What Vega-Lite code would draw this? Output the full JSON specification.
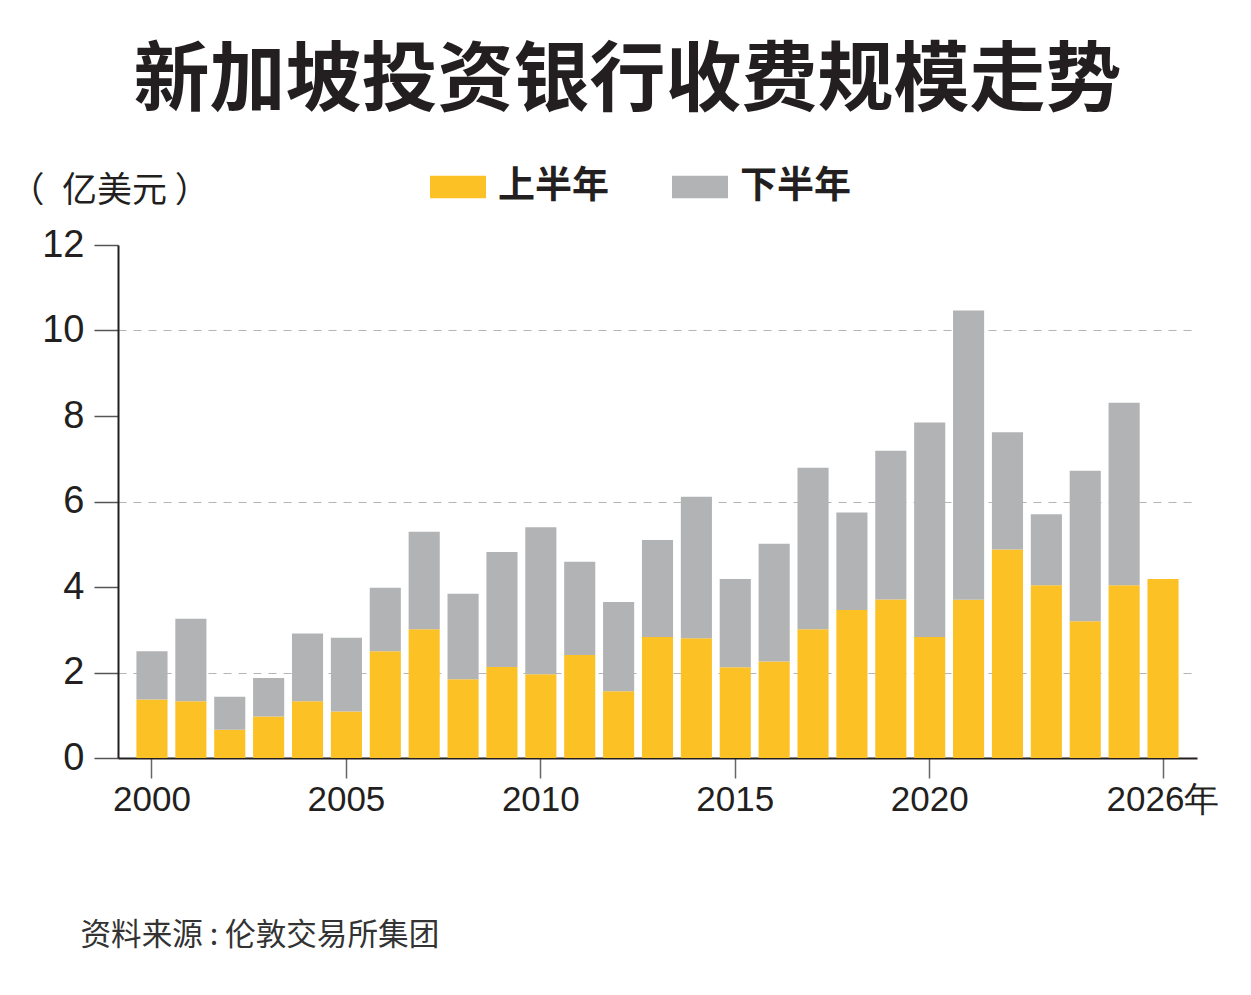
{
  "$schema": "https://vega.github.io/schema/vega-lite/v6.json",
  "autosize": {"type": "none"},
  "padding": {"left": 118, "top": 245, "right": 54, "bottom": 237},
  "width": 1079,
  "height": 513,
  "background": "white",
  "title": {
    "text": "新加坡投资银行收费规模走势",
    "font": "Noto Sans CJK SC",
    "fontSize": 76,
    "fontWeight": "bold",
    "color": "#231f20",
    "anchor": "middle",
    "frame": "group",
    "dx": -30,
    "offset": 38
  },
  "data": {
    "values": [
      {"year": 2000, "half": "上半年", "value": 1.37}, {"year": 2000, "half": "下半年", "value": 1.13},
      {"year": 2001, "half": "上半年", "value": 1.33}, {"year": 2001, "half": "下半年", "value": 1.93},
      {"year": 2002, "half": "上半年", "value": 0.66}, {"year": 2002, "half": "下半年", "value": 0.77},
      {"year": 2003, "half": "上半年", "value": 0.97}, {"year": 2003, "half": "下半年", "value": 0.90},
      {"year": 2004, "half": "上半年", "value": 1.33}, {"year": 2004, "half": "下半年", "value": 1.58},
      {"year": 2005, "half": "上半年", "value": 1.09}, {"year": 2005, "half": "下半年", "value": 1.72},
      {"year": 2006, "half": "上半年", "value": 2.50}, {"year": 2006, "half": "下半年", "value": 1.48},
      {"year": 2007, "half": "上半年", "value": 3.01}, {"year": 2007, "half": "下半年", "value": 2.28},
      {"year": 2008, "half": "上半年", "value": 1.84}, {"year": 2008, "half": "下半年", "value": 2.00},
      {"year": 2009, "half": "上半年", "value": 2.13}, {"year": 2009, "half": "下半年", "value": 2.69},
      {"year": 2010, "half": "上半年", "value": 1.96}, {"year": 2010, "half": "下半年", "value": 3.44},
      {"year": 2011, "half": "上半年", "value": 2.41}, {"year": 2011, "half": "下半年", "value": 2.18},
      {"year": 2012, "half": "上半年", "value": 1.56}, {"year": 2012, "half": "下半年", "value": 2.09},
      {"year": 2013, "half": "上半年", "value": 2.83}, {"year": 2013, "half": "下半年", "value": 2.27},
      {"year": 2014, "half": "上半年", "value": 2.80}, {"year": 2014, "half": "下半年", "value": 3.31},
      {"year": 2015, "half": "上半年", "value": 2.12}, {"year": 2015, "half": "下半年", "value": 2.07},
      {"year": 2016, "half": "上半年", "value": 2.26}, {"year": 2016, "half": "下半年", "value": 2.75},
      {"year": 2017, "half": "上半年", "value": 3.01}, {"year": 2017, "half": "下半年", "value": 3.78},
      {"year": 2018, "half": "上半年", "value": 3.46}, {"year": 2018, "half": "下半年", "value": 2.28},
      {"year": 2019, "half": "上半年", "value": 3.71}, {"year": 2019, "half": "下半年", "value": 3.48},
      {"year": 2020, "half": "上半年", "value": 2.83}, {"year": 2020, "half": "下半年", "value": 5.02},
      {"year": 2021, "half": "上半年", "value": 3.70}, {"year": 2021, "half": "下半年", "value": 6.77},
      {"year": 2022, "half": "上半年", "value": 4.88}, {"year": 2022, "half": "下半年", "value": 2.74},
      {"year": 2023, "half": "上半年", "value": 4.04}, {"year": 2023, "half": "下半年", "value": 1.66},
      {"year": 2024, "half": "上半年", "value": 3.20}, {"year": 2024, "half": "下半年", "value": 3.52},
      {"year": 2025, "half": "上半年", "value": 4.04}, {"year": 2025, "half": "下半年", "value": 4.27},
      {"year": 2026, "half": "上半年", "value": 4.19}
    ]
  },
  "mark": {"type": "bar"},
  "encoding": {
    "x": {
      "field": "year",
      "type": "ordinal",
      "scale": {"paddingInner": 0.2, "paddingOuter": 0.474},
      "axis": {
        "title": "资料来源 : 伦敦交易所集团",
        "titleX": -38,
        "titleY": 177,
        "titleAlign": "left",
        "titleAnchor": null,
        "titleBaseline": "middle",
        "titleFont": "Noto Sans CJK SC",
        "titleFontSize": 30.6,
        "titleFontWeight": "normal",
        "titleColor": "#333333",
        "values": [2000, 2005, 2010, 2015, 2020, 2026],
        "labelExpr": "datum.value == 2026 ? '2026年' : datum.label",
        "labelAngle": 0,
        "labelFont": "Liberation Sans",
        "labelFontSize": 35,
        "labelColor": "#231f20",
        "labelPadding": 4,
        "tickSize": 20,
        "tickColor": "#666666",
        "tickWidth": 1.5,
        "domainColor": "#231f20",
        "domainWidth": 2,
        "grid": false
      }
    },
    "y": {
      "field": "value",
      "type": "quantitative",
      "aggregate": "sum",
      "stack": "zero",
      "scale": {"domain": [0, 12], "nice": false},
      "axis": {
        "title": "（\u2002亿美元 ）",
        "titleAngle": 0,
        "titleAlign": "left",
        "titleAnchor": null,
        "titleBaseline": "middle",
        "titleX": -109,
        "titleY": -55,
        "titleFont": "Noto Sans CJK SC",
        "titleFontSize": 35,
        "titleFontWeight": "normal",
        "titleColor": "#231f20",
        "values": [0, 2, 4, 6, 8, 10, 12],
        "labelFont": "Liberation Sans",
        "labelFontSize": 38,
        "labelColor": "#231f20",
        "labelPadding": 10,
        "tickSize": 24,
        "tickColor": "#555555",
        "tickWidth": 1.5,
        "domainColor": "#231f20",
        "domainWidth": 2,
        "grid": true,
        "gridColor": "#b5b5b5",
        "gridDash": [8, 7],
        "gridWidth": 1,
        "gridOpacity": {"condition": {"test": "datum.value % 4 == 2", "value": 1}, "value": 0}
      }
    },
    "order": {"field": "half", "type": "nominal", "sort": "ascending"},
    "color": {
      "field": "half",
      "type": "nominal",
      "scale": {"domain": ["上半年", "下半年"], "range": ["#FCC125", "#B1B3B4"]},
      "legend": {
        "orient": "none",
        "direction": "horizontal",
        "legendX": 312,
        "legendY": -86,
        "title": null,
        "symbolType": "M-1,-0.4L1,-0.4L1,0.4L-1,0.4Z",
        "symbolSize": 3136,
        "symbolStrokeWidth": 0,
        "symbolOpacity": 1,
        "labelFont": "Noto Sans CJK SC",
        "labelFontSize": 37,
        "labelFontWeight": "bold",
        "labelColor": "#231f20",
        "labelOffset": 12,
        "columnPadding": 63,
        "labelLimit": 300
      }
    }
  },
  "config": {
    "view": {"stroke": null}
  }
}
